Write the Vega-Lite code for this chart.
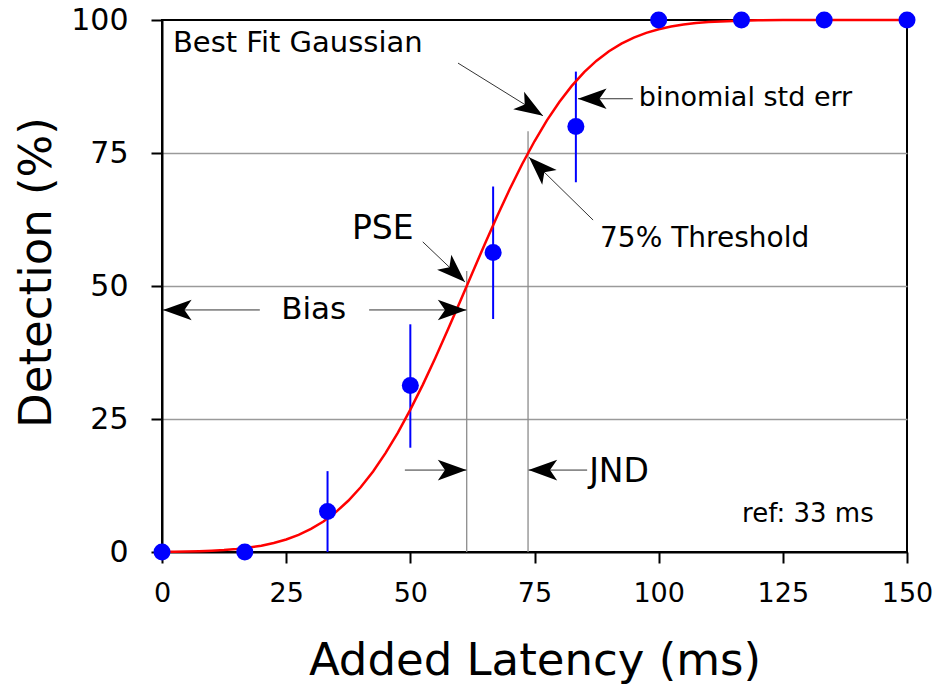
{
  "$schema": "https://vega.github.io/schema/vega-lite/v6.json",
  "width": 745,
  "height": 532,
  "autosize": {"type": "none"},
  "padding": {"left": 162, "top": 20, "right": 36, "bottom": 139},
  "background": "white",
  "config": {
    "view": {"stroke": "black", "strokeWidth": 2},
    "font": "DejaVu Sans",
    "axis": {
      "labelFont": "DejaVu Sans",
      "titleFont": "DejaVu Sans",
      "titleFontWeight": "normal",
      "domainColor": "black",
      "domainWidth": 2,
      "tickColor": "black",
      "tickWidth": 2,
      "tickSize": 11,
      "labelColor": "black",
      "titleColor": "black"
    }
  },
  "datasets": {
    "obs": [
      {"x": 0, "y": 0},
      {"x": 16.67, "y": 0},
      {"x": 33.33, "y": 7.6},
      {"x": 50, "y": 31.3},
      {"x": 66.67, "y": 56.3},
      {"x": 83.33, "y": 80},
      {"x": 100, "y": 100},
      {"x": 116.67, "y": 100},
      {"x": 133.33, "y": 100},
      {"x": 150, "y": 100}
    ],
    "err": [
      {"x": 33.33, "y": 0, "y2": 15.2},
      {"x": 50, "y": 19.6, "y2": 42.8},
      {"x": 66.67, "y": 43.8, "y2": 68.7},
      {"x": 83.33, "y": 69.5, "y2": 90.3}
    ],
    "fit": [
      {"x": 0, "y": 0.04}, {"x": 2.5, "y": 0.07}, {"x": 5, "y": 0.1}, {"x": 7.5, "y": 0.16},
      {"x": 10, "y": 0.25}, {"x": 12.5, "y": 0.38}, {"x": 15, "y": 0.57}, {"x": 17.5, "y": 0.83},
      {"x": 20, "y": 1.19}, {"x": 22.5, "y": 1.69}, {"x": 25, "y": 2.35}, {"x": 27.5, "y": 3.22},
      {"x": 30, "y": 4.34}, {"x": 32.5, "y": 5.74}, {"x": 35, "y": 7.49}, {"x": 37.5, "y": 9.63},
      {"x": 40, "y": 12.16}, {"x": 42.5, "y": 15.15}, {"x": 45, "y": 18.59}, {"x": 47.5, "y": 22.45},
      {"x": 50, "y": 26.76}, {"x": 52.5, "y": 31.42}, {"x": 55, "y": 36.43}, {"x": 57.5, "y": 41.68},
      {"x": 60, "y": 47.05}, {"x": 62.5, "y": 52.51}, {"x": 65, "y": 57.9}, {"x": 67.5, "y": 63.16},
      {"x": 70, "y": 68.18}, {"x": 72.5, "y": 72.88}, {"x": 75, "y": 77.21}, {"x": 77.5, "y": 81.13},
      {"x": 80, "y": 84.59}, {"x": 82.5, "y": 87.61}, {"x": 85, "y": 90.19}, {"x": 87.5, "y": 92.35},
      {"x": 90, "y": 94.13}, {"x": 92.5, "y": 95.56}, {"x": 95, "y": 96.7}, {"x": 97.5, "y": 97.59},
      {"x": 100, "y": 98.27}, {"x": 102.5, "y": 98.77}, {"x": 105, "y": 99.15}, {"x": 107.5, "y": 99.42},
      {"x": 110, "y": 99.61}, {"x": 115, "y": 99.83}, {"x": 120, "y": 99.93}, {"x": 125, "y": 100},
      {"x": 130, "y": 100}, {"x": 140, "y": 100}, {"x": 150, "y": 100}
    ],
    "refs": [
      {"x": 61.35, "y": 0, "y2": 52.8},
      {"x": 73.7, "y": 0, "y2": 79.1}
    ],
    "arrows": [
      {"name": "gauss", "x": 59.6, "y": 91.9, "x2": 76.7, "y2": 82.0},
      {"name": "binom", "x": 94.8, "y": 85.2, "x2": 83.75, "y2": 85.2},
      {"name": "thresh", "x": 86.8, "y": 62.4, "x2": 73.9, "y2": 74.2},
      {"name": "pse", "x": 52.5, "y": 58.3, "x2": 61.0, "y2": 50.75},
      {"name": "biasL", "x": 19.7, "y": 45.5, "x2": 0.2, "y2": 45.5},
      {"name": "biasR", "x": 41.7, "y": 45.5, "x2": 61.3, "y2": 45.5},
      {"name": "jndL", "x": 48.9, "y": 15.4, "x2": 61.3, "y2": 15.4},
      {"name": "jndR", "x": 85.6, "y": 15.4, "x2": 73.8, "y2": 15.4}
    ],
    "labels": [
      {"label": "Best Fit Gaussian", "x": 2.2, "y": 94.0},
      {"label": "binomial std err", "x": 96.0, "y": 83.8},
      {"label": "75% Threshold", "x": 88.2, "y": 57.3},
      {"label": "PSE", "x": 38.25, "y": 58.8},
      {"label": "Bias", "x": 24.0, "y": 43.8},
      {"label": "JND", "x": 86.0, "y": 13.2},
      {"label": "ref: 33 ms", "x": 116.8, "y": 5.6}
    ]
  },
  "layer": [
    {
      "data": {"name": "refs"},
      "mark": {"type": "rule", "color": "#8c8c8c", "strokeWidth": 1.3},
      "encoding": {
        "x": {
          "field": "x", "type": "quantitative",
          "scale": {"domain": [0, 150], "nice": false, "zero": false},
          "axis": {
            "title": "Added Latency (ms)",
            "values": [0, 25, 50, 75, 100, 125, 150],
            "grid": false,
            "labelFontSize": 27,
            "labelPadding": 17,
            "labelFlush": false,
            "labelOverlap": false,
            "titleFontSize": 45,
            "titleBaseline": "alphabetic",
            "titleY": 122
          }
        },
        "y": {
          "field": "y", "type": "quantitative",
          "scale": {"domain": [0, 100], "nice": false},
          "axis": {
            "title": "Detection (%)",
            "values": [0, 25, 50, 75, 100],
            "grid": true,
            "gridColor": "#9a9a9a",
            "gridWidth": 1.5,
            "gridOpacity": {"condition": {"test": "datum.value === 0 || datum.value === 100", "value": 0}, "value": 1},
            "labelFontSize": 30,
            "labelPadding": 23,
            "labelFlush": false,
            "labelOverlap": false,
            "titleFontSize": 45,
            "titleAngle": 270,
            "titleBaseline": "alphabetic",
            "titleAlign": "center",
            "titleX": -112,
            "titleY": 252
          }
        },
        "y2": {"field": "y2"}
      }
    },
    {
      "data": {"name": "err"},
      "mark": {"type": "rule", "color": "#0000ff", "strokeWidth": 2},
      "encoding": {
        "x": {"field": "x", "type": "quantitative"},
        "y": {"field": "y", "type": "quantitative"},
        "y2": {"field": "y2"}
      }
    },
    {
      "data": {"name": "fit"},
      "mark": {"type": "line", "color": "#ff0000", "strokeWidth": 2.5},
      "encoding": {
        "x": {"field": "x", "type": "quantitative"},
        "y": {"field": "y", "type": "quantitative"}
      }
    },
    {
      "data": {"name": "obs"},
      "mark": {"type": "point", "filled": true, "color": "#0000ff", "opacity": 1, "size": 290},
      "encoding": {
        "x": {"field": "x", "type": "quantitative"},
        "y": {"field": "y", "type": "quantitative"}
      }
    },
    {
      "data": {"name": "arrows"},
      "mark": {"type": "rule", "color": "#333333", "strokeWidth": 1},
      "encoding": {
        "x": {"field": "x", "type": "quantitative"},
        "y": {"field": "y", "type": "quantitative"},
        "x2": {"field": "x2"},
        "y2": {"field": "y2"}
      }
    },
    {
      "data": {"name": "arrows"},
      "mark": {"type": "point", "filled": true, "color": "black", "opacity": 1, "size": 820, "shape": "M0,0L-2,-0.72L-1.5,0L-2,0.72Z"},
      "encoding": {
        "x": {"field": "x2", "type": "quantitative"},
        "y": {"field": "y2", "type": "quantitative"},
        "angle": {
          "field": "name", "type": "nominal",
          "scale": {
            "type": "ordinal",
            "domain": ["gauss", "binom", "thresh", "pse", "biasL", "biasR", "jndL", "jndR"],
            "range": [32, 180, 224.5, 43.6, 180, 0, 0, 180]
          },
          "legend": null
        }
      }
    },
    {
      "data": {"name": "labels"},
      "mark": {"type": "text", "align": "left", "baseline": "alphabetic", "color": "black", "font": "DejaVu Sans"},
      "encoding": {
        "x": {"field": "x", "type": "quantitative"},
        "y": {"field": "y", "type": "quantitative"},
        "text": {"field": "label"},
        "size": {
          "field": "label", "type": "nominal",
          "scale": {
            "type": "ordinal",
            "domain": ["Best Fit Gaussian", "binomial std err", "75% Threshold", "PSE", "Bias", "JND", "ref: 33 ms"],
            "range": [29, 27, 28, 33, 31, 33, 26]
          },
          "legend": null
        }
      }
    }
  ]
}
